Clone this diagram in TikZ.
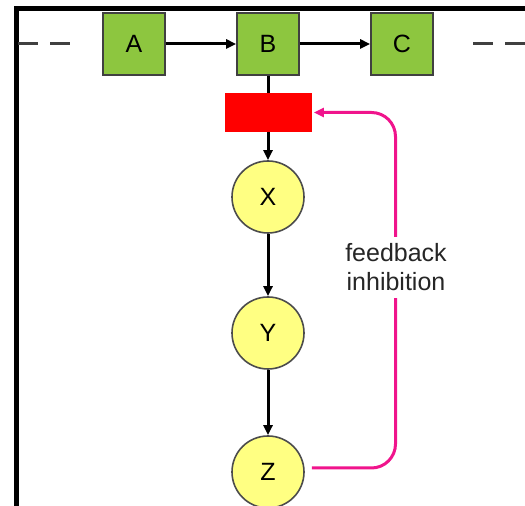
\documentclass[tikz,border=0pt]{standalone}
\usepackage{fontspec}
\setmainfont{Liberation Sans}
\usetikzlibrary{positioning,arrows.meta}
\definecolor{leafgreen}{RGB}{141,198,63}
\definecolor{paleyellow}{RGB}{255,255,130}
\definecolor{inhibpink}{RGB}{240,20,140}
\begin{document}
\begin{tikzpicture}[x=0.5pt, y=-0.5pt, node distance=67pt, auto, font=\fontsize{12.5}{14.5}\selectfont]
        \tikzstyle{enzyme}=[draw=black!75, line width=0.8pt, rectangle, fill=leafgreen, minimum size=31pt, inner sep=0pt];
        \tikzstyle{metabolite}=[draw=black!70, line width=0.8pt, circle, fill=paleyellow, minimum size=36pt, inner sep=0pt];
        \tikzstyle{flow}=[line width=1.5pt, -{Triangle[length=5pt, width=4.5pt]}];
        \tikzstyle{loose}=[line width=1.5pt, black!75, dash pattern=on 10pt off 6pt];

        \useasboundingbox (0,0) rectangle (525,506);
        \draw[line width=2.5pt] (16.5,506) |- (525,8.5);

        \node[enzyme] (a) at (134,44) {A};
        \node[enzyme, right of=a] (b) {B};
        \node[enzyme, right of=b] (c) {C};
        \node[rectangle, fill=red, minimum width=43.5pt, minimum height=19.5pt, below of=b, node distance=34.25pt] (block) {};
        \node[metabolite, below of=block, node distance=42.25pt] (x) {X};
        \node[metabolite, below of=x, node distance=68pt] (y) {Y};
        \node[metabolite, below of=y, node distance=69.5pt] (z) {Z};

        \coordinate (inL) at (18,44);
        \coordinate (outL) at (72,44);
        \coordinate (inR) at (473,44);
        \coordinate (outR) at (525,44);
        \coordinate[right of=block, node distance=63.75pt] (turn);

        \draw[loose] (inL) -- (outL);
        \draw[loose] (inR) -- (outR);
        \draw[flow] (a) -- (b);
        \draw[flow] (b) -- (c);
        \draw[line width=1.5pt] (b) -- (block);
        \draw[flow] (block) -- (x);
        \draw[flow] (x) -- (y);
        \draw[flow] (y) -- (z);

        % feedback loop from Z back to the block
        \draw[inhibpink, line width=1.5pt, rounded corners=12pt, -{Triangle[length=5pt, width=4.5pt]}] ([xshift=3.5pt, yshift=2pt]z.east) -| (turn) -- ([xshift=1pt]block.east);
        \node[fill=white, align=center, inner sep=3.5pt, text=black!85] (label) at (396,267.5) {feedback\\inhibition};
    \end{tikzpicture}
\end{document}
